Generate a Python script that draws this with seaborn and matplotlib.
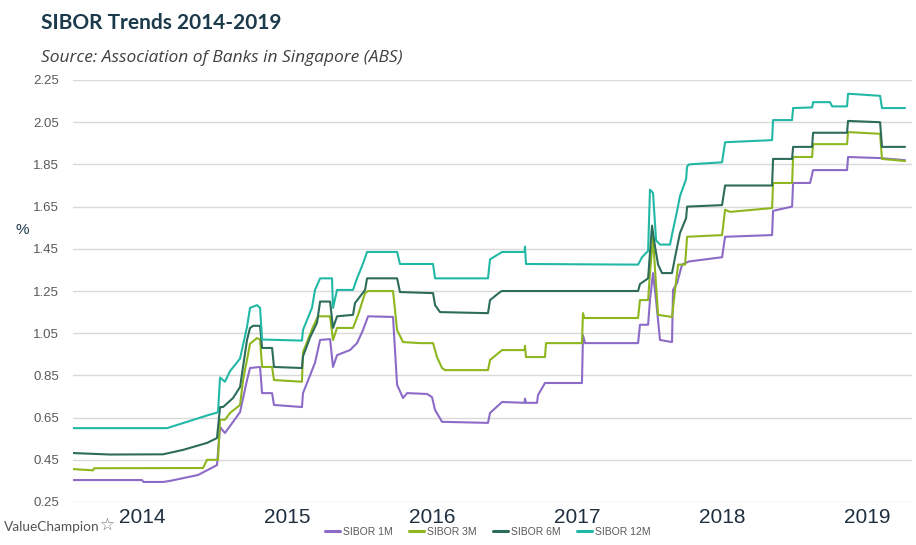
import matplotlib
matplotlib.use("Agg")
import matplotlib.pyplot as plt
import seaborn as sns
import pandas as pd

# ---- data (decimal year, %) ----
sibor_12m_t = [2014.024, 2014.672, 2014.783, 2014.948, 2015.024, 2015.038, 2015.072, 2015.107, 2015.176,
               2015.224, 2015.245, 2015.293, 2015.314, 2015.328, 2015.603, 2015.610, 2015.672, 2015.693,
               2015.728, 2015.810, 2015.817, 2015.845, 2015.955, 2015.983, 2016.024, 2016.052, 2016.259,
               2016.279, 2016.507, 2016.521, 2016.886, 2016.900, 2016.983, 2017.138, 2017.141, 2017.148,
               2017.921, 2017.948, 2017.990, 2018.003, 2018.024, 2018.045, 2018.072, 2018.141, 2018.162,
               2018.190, 2018.210, 2018.252, 2018.259, 2018.272, 2018.500, 2018.521, 2018.845, 2018.852,
               2018.983, 2018.990, 2019.121, 2019.128, 2019.245, 2019.259, 2019.362, 2019.369, 2019.590,
               2019.603, 2019.762]
sibor_12m_v = [0.600, 0.600, 0.624, 0.660, 0.675, 0.840, 0.820, 0.870, 0.930,
               1.080, 1.170, 1.183, 1.170, 1.020, 1.015, 1.065, 1.170, 1.255,
               1.310, 1.310, 1.170, 1.255, 1.255, 1.310, 1.380, 1.435, 1.435,
               1.378, 1.378, 1.310, 1.310, 1.400, 1.435, 1.435, 1.460, 1.378,
               1.375, 1.410, 1.440, 1.730, 1.715, 1.490, 1.470, 1.470, 1.540,
               1.630, 1.700, 1.780, 1.840, 1.850, 1.860, 1.955, 1.965, 2.060,
               2.060, 2.117, 2.120, 2.145, 2.145, 2.125, 2.125, 2.185, 2.175,
               2.117, 2.117]

sibor_6m_t = [2014.024, 2014.279, 2014.645, 2014.783, 2014.948, 2015.017, 2015.038, 2015.059, 2015.128,
              2015.176, 2015.224, 2015.245, 2015.266, 2015.314, 2015.328, 2015.397, 2015.410, 2015.603,
              2015.610, 2015.659, 2015.707, 2015.728, 2015.797, 2015.817, 2015.845, 2015.955, 2015.969,
              2016.038, 2016.052, 2016.259, 2016.279, 2016.507, 2016.521, 2016.555, 2016.886, 2016.900,
              2016.969, 2016.983, 2017.921, 2017.934, 2017.990, 2018.017, 2018.038, 2018.059, 2018.086,
              2018.155, 2018.176, 2018.210, 2018.252, 2018.259, 2018.500, 2018.521, 2018.845, 2018.852,
              2018.983, 2018.990, 2019.121, 2019.128, 2019.362, 2019.369, 2019.590, 2019.603, 2019.762]
sibor_6m_v = [0.482, 0.475, 0.476, 0.497, 0.530, 0.553, 0.700, 0.700, 0.743,
              0.795, 1.018, 1.075, 1.085, 1.085, 0.980, 0.980, 0.890, 0.885,
              0.940, 1.030, 1.100, 1.200, 1.200, 1.075, 1.130, 1.137, 1.193,
              1.255, 1.310, 1.310, 1.245, 1.240, 1.183, 1.150, 1.145, 1.207,
              1.245, 1.250, 1.250, 1.283, 1.310, 1.560, 1.460, 1.375, 1.335,
              1.335, 1.410, 1.525, 1.595, 1.650, 1.657, 1.750, 1.750, 1.876,
              1.876, 1.933, 1.933, 2.000, 2.000, 2.056, 2.050, 1.933, 1.933]

sibor_3m_t = [2014.024, 2014.162, 2014.170, 2014.921, 2014.948, 2015.024, 2015.038, 2015.072, 2015.107,
              2015.176, 2015.197, 2015.245, 2015.293, 2015.314, 2015.328, 2015.397, 2015.410, 2015.603,
              2015.610, 2015.679, 2015.714, 2015.797, 2015.817, 2015.845, 2015.955, 2015.990, 2016.038,
              2016.059, 2016.231, 2016.259, 2016.300, 2016.417, 2016.507, 2016.534, 2016.569, 2016.590,
              2016.886, 2016.900, 2016.983, 2017.138, 2017.141, 2017.148, 2017.279, 2017.286, 2017.534,
              2017.541, 2017.550, 2017.921, 2017.934, 2017.990, 2018.003, 2018.024, 2018.038, 2018.059,
              2018.155, 2018.176, 2018.197, 2018.245, 2018.259, 2018.500, 2018.521, 2018.555, 2018.845,
              2018.852, 2018.983, 2018.990, 2019.121, 2019.128, 2019.362, 2019.369, 2019.590, 2019.603,
              2019.762]
sibor_3m_v = [0.406, 0.400, 0.410, 0.411, 0.450, 0.450, 0.640, 0.640, 0.672,
              0.710, 0.828, 1.000, 1.027, 1.020, 0.890, 0.890, 0.828, 0.820,
              0.960, 1.080, 1.130, 1.130, 1.018, 1.075, 1.075, 1.137, 1.240,
              1.250, 1.250, 1.065, 1.008, 1.003, 1.003, 0.937, 0.885, 0.875,
              0.875, 0.923, 0.970, 0.970, 0.990, 0.937, 0.937, 1.003, 1.003,
              1.145, 1.122, 1.122, 1.207, 1.207, 1.335, 1.507, 1.350, 1.137,
              1.127, 1.255, 1.375, 1.375, 1.507, 1.515, 1.635, 1.625, 1.643,
              1.762, 1.762, 1.885, 1.885, 1.946, 1.946, 2.003, 1.995, 1.876,
              1.866]

sibor_1m_t = [2014.024, 2014.500, 2014.510, 2014.645, 2014.693, 2014.783, 2014.886, 2014.948, 2015.017,
              2015.038, 2015.072, 2015.107, 2015.176, 2015.224, 2015.245, 2015.314, 2015.328, 2015.397,
              2015.410, 2015.603, 2015.610, 2015.638, 2015.693, 2015.728, 2015.797, 2015.817, 2015.845,
              2015.934, 2015.983, 2016.024, 2016.059, 2016.231, 2016.259, 2016.300, 2016.328, 2016.466,
              2016.500, 2016.521, 2016.569, 2016.886, 2016.900, 2016.983, 2017.138, 2017.141, 2017.148,
              2017.224, 2017.231, 2017.279, 2017.534, 2017.541, 2017.555, 2017.921, 2017.934, 2017.990,
              2018.003, 2018.024, 2018.045, 2018.072, 2018.155, 2018.162, 2018.190, 2018.224, 2018.272,
              2018.500, 2018.521, 2018.845, 2018.852, 2018.983, 2018.990, 2019.107, 2019.128, 2019.362,
              2019.369, 2019.590, 2019.762]
sibor_1m_v = [0.354, 0.354, 0.345, 0.345, 0.350, 0.363, 0.378, 0.400, 0.425,
              0.605, 0.577, 0.610, 0.676, 0.828, 0.885, 0.890, 0.766, 0.766,
              0.710, 0.700, 0.766, 0.814, 0.910, 1.018, 1.022, 0.890, 0.946,
              0.970, 1.003, 1.065, 1.130, 1.127, 0.805, 0.743, 0.766, 0.762,
              0.747, 0.686, 0.630, 0.625, 0.672, 0.724, 0.720, 0.740, 0.720,
              0.720, 0.757, 0.814, 0.814, 1.040, 1.003, 1.003, 1.090, 1.090,
              1.207, 1.335, 1.207, 1.018, 1.008, 1.255, 1.288, 1.375, 1.390,
              1.410, 1.507, 1.515, 1.630, 1.650, 1.762, 1.762, 1.823, 1.823,
              1.885, 1.880, 1.870]

series_names = ["SIBOR 1M", "SIBOR 3M", "SIBOR 6M", "SIBOR 12M"]
series_colors = ["#8c6bc8", "#8db61f", "#2d6b5b", "#22b8a6"]
y_ticks = [0.25, 0.45, 0.65, 0.85, 1.05, 1.25, 1.45, 1.65, 1.85, 2.05, 2.25]
year_labels = ["2014", "2015", "2016", "2017", "2018", "2019"]

frames = []
for name, t, v in zip(series_names,
                      [sibor_1m_t, sibor_3m_t, sibor_6m_t, sibor_12m_t],
                      [sibor_1m_v, sibor_3m_v, sibor_6m_v, sibor_12m_v]):
    frames.append(pd.DataFrame({"year": t, "rate": v, "series": name}))
df = pd.concat(frames, ignore_index=True)

sns.set_theme(style="white")
plt.rcParams["font.family"] = ["Liberation Sans", "DejaVu Sans"]

fig = plt.figure(figsize=(9.16, 5.45), dpi=100)
ax = fig.add_axes([73 / 916, 1 - 502 / 545, (912 - 73) / 916, (502 - 80) / 545])

sns.lineplot(data=df, x="year", y="rate", hue="series", hue_order=series_names,
             palette=dict(zip(series_names, series_colors)), estimator=None,
             linewidth=1.5, ax=ax, legend=False)

ax.set_xlim(2014.024, 2019.81)
ax.set_ylim(0.25, 2.25)
ax.set_yticks(y_ticks)
ax.set_yticklabels([f"{v:.2f}" for v in y_ticks], color="#595959", fontsize=9.5)
ax.set_xticks([int(y) + 0.5 for y in year_labels])
ax.set_xticklabels(year_labels, color="#1f2f3f", fontsize=15)
ax.tick_params(axis="x", length=0, pad=4)
ax.tick_params(axis="y", length=0, pad=10)
ax.grid(axis="y", color="#d9d9d9", linewidth=1.0)
ax.set_axisbelow(True)
for s in ax.spines.values():
    s.set_visible(False)
ax.set_xlabel("")
ax.set_ylabel("")

fig.text(22 / 916, 1 - 230 / 545, "%", ha="center", va="center", fontsize=11, color="#1f3a4d")

fig.text(41 / 916, 1 - 23 / 545, "SIBOR Trends 2014-2019", ha="left", va="center",
         fontsize=15, fontweight="bold", color="#1b3a4b", family=["Lato", "DejaVu Sans"])
fig.text(41 / 916, 1 - 58 / 545, "Source: Association of Banks in Singapore (ABS)", ha="left",
         va="center", fontsize=12.5, style="italic", color="#404040", family=["Open Sans", "DejaVu Sans"])

fig.text(4 / 916, 1 - 527 / 545, "ValueChampion", ha="left", va="center", fontsize=9.8,
         color="#555555", family=["Lato", "DejaVu Sans"])
fig.text(107 / 916, 1 - 525 / 545, "\u2606", ha="center", va="center", fontsize=12,
         color="#777777", family=["DejaVu Sans"])

handles = [plt.Line2D([0], [0], color=c, lw=2.2) for c in series_colors]
fig.legend(handles, series_names, loc="center", bbox_to_anchor=(488 / 916, 1 - 532 / 545),
           ncol=4, frameon=False, handlelength=1.4, handletextpad=0.3, columnspacing=1.6,
           prop={"size": 7.5, "family": ["Liberation Sans", "DejaVu Sans"]},
           labelcolor="#595959")

fig.savefig("out.png", dpi=100)
